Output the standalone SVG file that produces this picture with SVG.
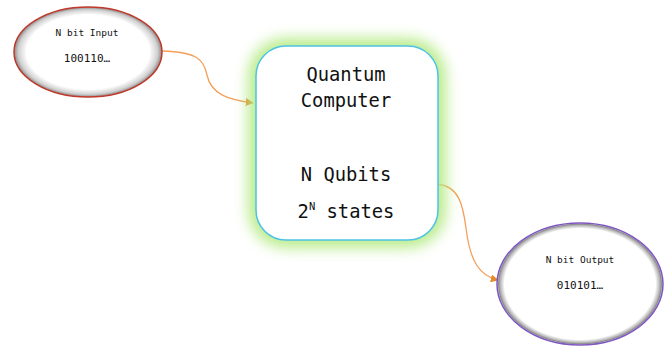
<svg xmlns="http://www.w3.org/2000/svg" width="672" height="346" viewBox="0 0 672 346">
<style>
.mono{font-family:"DejaVu Sans Mono","Liberation Mono",monospace;fill:#111;text-anchor:middle}
.big{font-size:18.8px}
.small{font-size:9.5px}
.mid{font-size:11px}
.conn{fill:none;stroke:#f4a05a;stroke-width:1.3}
</style>
<defs>
<radialGradient id="gIn" cx="0.5" cy="0.5" r="0.5">
<stop offset="0" stop-color="#ffffff"/>
<stop offset="0.83" stop-color="#ffffff"/>
<stop offset="0.94" stop-color="#d0d0d0"/>
<stop offset="1" stop-color="#8a8a8a"/>
</radialGradient>
<radialGradient id="gOut" cx="0.5" cy="0.5" r="0.5">
<stop offset="0" stop-color="#ffffff"/>
<stop offset="0.91" stop-color="#ffffff"/>
<stop offset="0.965" stop-color="#b0b0b0"/>
<stop offset="0.98" stop-color="#8a8a8a"/>
<stop offset="1" stop-color="#f4f4f4"/>
</radialGradient>
<filter id="glow" x="-30%" y="-30%" width="160%" height="160%">
<feGaussianBlur stdDeviation="7"/>
</filter>
<marker id="arr" viewBox="0 0 10 10" refX="9" refY="5" markerWidth="8" markerHeight="8" markerUnits="userSpaceOnUse" orient="auto">
<path d="M0,0 L10,5 L0,10 z" fill="#e58a2c"/>
</marker>
</defs>
<g id="connectors">
<path class="conn" d="M162,51 C198,52 204,60 207,75 C211,95 230,100 253,103" marker-end="url(#arr)"/>
<path class="conn" d="M437,184 C459,186 463,205 466,228 C470,262 480,276 498,280" marker-end="url(#arr)"/>
</g>
<g id="input">
<ellipse cx="88" cy="52" rx="74" ry="45" fill="url(#gIn)" stroke="#c0392b" stroke-width="1.5"/>
<text class="mono small" x="87" y="36">N bit Input</text>
<text class="mono mid" x="87" y="62">100110…</text>
</g>
<g id="quantum">
<rect x="248" y="38" width="198" height="210" rx="38" fill="#b2ea80" opacity="0.9" filter="url(#glow)"/>
<rect x="256" y="46" width="182" height="194" rx="30" fill="#ffffff" stroke="#4cc3e6" stroke-width="1.5"/>
<text class="mono big" x="346" y="81">Quantum</text>
<text class="mono big" x="346" y="107">Computer</text>
<text class="mono big" x="346" y="181">N Qubits</text>
<text class="mono big" x="346" y="218">2<tspan font-size="10.5" dy="-8">N</tspan><tspan dy="8"> states</tspan></text>
</g>
<g id="output">
<ellipse cx="580" cy="284" rx="83" ry="61" fill="url(#gOut)" stroke="#7e57c2" stroke-width="1.5"/>
<text class="mono small" x="580" y="263">N bit Output</text>
<text class="mono mid" x="580" y="289">010101…</text>
</g>
</svg>
